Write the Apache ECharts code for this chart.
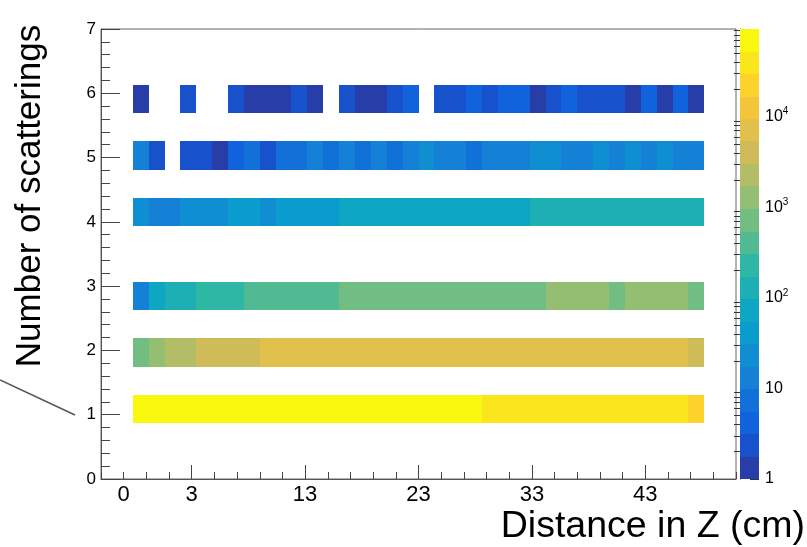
<!DOCTYPE html>
<html>
<head>
<meta charset="utf-8">
<script src="https://cdn.jsdelivr.net/npm/echarts@6/dist/echarts.min.js"></script>
<style>
  html, body { margin: 0; padding: 0; background: #fff; }
  #chart { width: 807px; height: 547px; }
</style>
</head>
<body>
<div id="chart"></div>
<script>
// histogram binning (axis units)
const X_MIN = 0, X_MAX = 56, X_NBINS = 40, X_FIRST_BIN = 2;
const Y_MIN = 0, Y_MAX = 7, Y_NBINS = 16;

// x tick labels
const xLabelValues = [2, 8, 18, 28, 38, 48];
const xLabelTexts = ['0', '3', '13', '23', '33', '43'];
const xMajorTicks = [8, 18, 28, 38, 48];

// number of scatterings (rows)
const scatterings = [1, 2, 3, 4, 5, 6];

// counts per x bin, one array per row (null = empty bin)
const counts1 = [78000, 77000, 76000, 76500, 75000, 75500, 74800, 74000, 73500, 74200, 73000, 72500,
  72000, 71500, 72200, 71000, 70500, 70000, 69000, 68500, 68000, 67000,
  48000, 47000, 46500, 46000, 45000, 44500, 44000, 43500, 43000, 42500, 42000, 41000, 40000, 22000];
const counts2 = [800, 1300, 2100, 2600, 3600, 4000, 4300, 4800,
  6200, 6500, 6800, 7000, 7100, 7300, 7200, 7400, 7500, 7600, 7500, 7700, 7600, 7800,
  7700, 7800, 7900, 7800, 7700, 7900, 8000, 7900, 7800, 7700, 7600, 7400, 7000, 4200];
const counts3 = [14, 80, 130, 160, 200, 250, 280, 330, 380, 420, 450, 480, 510,
  580, 620, 650, 680, 700, 720, 740, 760, 780, 800, 820, 850, 900,
  1000, 1050, 1100, 1020, 930, 1010, 1080, 1150, 1060, 880];
const counts4 = [20, 15, 16, 22, 25, 27, 34, 38, 28, 36, 42, 46, 50,
  58, 62, 65, 68, 72, 75, 78, 82, 85, 88, 90, 94,
  100, 105, 110, 115, 120, 125, 130, 135, 140, 145, 150];
const counts5 = [12, 2, null, 3, 2, 1, 4, 7, 3, 8, 6, 11, 9, 12, 8, 13, 9, 14, 19, 15, 16, 9,
  13, 15, 17, 20, 21, 16, 15, 19, 14, 20, 16, 19, 15, 13];
const counts6 = [1, null, null, 2, null, null, 2, 1, 1, 1, 2, 1, null, 3, 1, 1, 2, 4, null, 2, 3, 4,
  2, 4, 5, 1, 2, 4, 3, 2, 3, 1, 4, 1, 5, 1];
const rowCounts = [counts1, counts2, counts3, counts4, counts5, counts6];

// z scale (log) and palette levels
const Z_MAX = 93000;
const N_LEVELS = 20;
const zLabelValues = [0, 1, 2, 3, 4];
const zLabelTexts = ['1', '10', '{b|10}{s|2}', '{b|10}{s|3}', '{b|10}{s|4}'];
const birdColors = ['#273da8', '#1751cb', '#1063dc', '#1271d9', '#1480d6', '#0f8ed1', '#099ccc',
  '#0da7c3', '#1dafb4', '#2db7a4', '#51ba92', '#72bd81', '#94be72', '#b2bd66', '#d0bb59',
  '#e1c04b', '#f4c53b', '#fdd22b', '#fbe61d', '#f9f90f'];

const FONT = 'Liberation Sans, Arial, Helvetica, sans-serif';
const LOG_MAX = Math.log10(Z_MAX);
const LEVEL_W = LOG_MAX / N_LEVELS;
const xBinW = (X_MAX - X_MIN) / X_NBINS;
const yBinW = (Y_MAX - Y_MIN) / Y_NBINS;

// histogram cells: [xLow, xHigh, yLow, yHigh, log10(count), count]
const cells = [];
scatterings.forEach((n, r) => {
  const yb = Math.floor((n - Y_MIN) / yBinW);
  rowCounts[r].forEach((c, i) => {
    if (c == null) return;
    const xb = X_FIRST_BIN + i;
    cells.push([X_MIN + xb * xBinW, X_MIN + (xb + 1) * xBinW,
      Y_MIN + yb * yBinW, Y_MIN + (yb + 1) * yBinW, Math.log10(c), c]);
  });
});

// palette bar cells
const barCells = birdColors.map((c, k) => [0, 1, k * LEVEL_W, (k + 1) * LEVEL_W, (k + 0.5) * LEVEL_W]);

const pieces = birdColors.map((c, k) => (k === N_LEVELS - 1
  ? { gte: k * LEVEL_W, color: c }
  : { gte: k * LEVEL_W, lt: (k + 1) * LEVEL_W, color: c }));

// minor ticks of the palette axis (2..9 per decade)
const zMinorTicks = [];
for (let d = 0; d < 5; d++) {
  for (let m = 2; m <= 9; m++) {
    const v = Math.log10(m) + d;
    if (v < LOG_MAX) zMinorTicks.push(v);
  }
}

function renderCell(params, api) {
  const p0 = api.coord([api.value(0), api.value(3)]);
  const p1 = api.coord([api.value(1), api.value(2)]);
  const x0 = Math.round(p0[0]), x1 = Math.round(p1[0]);
  const y0 = Math.round(p0[1]), y1 = Math.round(p1[1]);
  return {
    type: 'rect',
    shape: { x: x0, y: y0, width: x1 - x0, height: y1 - y0 },
    style: { fill: api.visual('color') }
  };
}

const axisColor = '#555';
const chart = echarts.init(document.getElementById('chart'));
chart.setOption({
  animation: false,
  textStyle: { fontFamily: FONT },
  grid: [
    { left: 101, right: 71, top: 29, bottom: 68, show: true, borderColor: '#666', borderWidth: 1 },
    { left: 740, right: 48, top: 29, bottom: 68 }
  ],
  xAxis: [
    {
      gridIndex: 0, type: 'value', min: X_MIN, max: X_MAX, interval: 2, position: 'bottom',
      axisLine: { lineStyle: { color: axisColor, width: 1 } },
      axisTick: { inside: true, length: 7, lineStyle: { color: '#444' } },
      axisLabel: { show: false }, splitLine: { show: false }
    },
    {
      gridIndex: 0, type: 'value', min: X_MIN, max: X_MAX, position: 'bottom',
      axisLine: { show: false },
      axisTick: { inside: true, length: 14, customValues: xMajorTicks, lineStyle: { color: '#444' } },
      axisLabel: {
        customValues: xLabelValues, margin: 5, fontSize: 22, color: '#000', fontFamily: FONT,
        formatter: v => xLabelTexts[xLabelValues.indexOf(v)]
      },
      splitLine: { show: false }
    },
    { gridIndex: 1, type: 'value', min: 0, max: 1, show: false }
  ],
  yAxis: [
    {
      gridIndex: 0, type: 'value', min: Y_MIN, max: Y_MAX, interval: 0.2, position: 'left',
      axisLine: { show: true, lineStyle: { color: axisColor, width: 1 } },
      axisTick: { show: true, inside: true, length: 9, lineStyle: { color: '#444' } },
      axisLabel: { show: false }, splitLine: { show: false }
    },
    {
      gridIndex: 0, type: 'value', min: Y_MIN, max: Y_MAX, interval: 1, position: 'left',
      axisLine: { show: false },
      axisTick: { show: true, inside: true, length: 19, lineStyle: { color: '#444' } },
      axisLabel: { margin: 5, fontSize: 17, color: '#000', fontFamily: FONT },
      splitLine: { show: false }
    },
    {
      gridIndex: 1, type: 'value', min: 0, max: LOG_MAX, position: 'right',
      axisLine: { show: true, lineStyle: { color: '#333', width: 1 } },
      axisTick: { show: true, inside: true, length: 6, customValues: zMinorTicks, lineStyle: { color: '#333' } },
      axisLabel: { show: false }, splitLine: { show: false }
    },
    {
      gridIndex: 1, type: 'value', min: 0, max: LOG_MAX, position: 'right',
      axisLine: { show: false },
      axisTick: { show: true, inside: true, length: 9, customValues: zLabelValues, lineStyle: { color: '#333' } },
      axisLabel: {
        customValues: zLabelValues, margin: 6, fontSize: 16, color: '#000', fontFamily: FONT,
        formatter: v => zLabelTexts[zLabelValues.indexOf(v)],
        rich: {
          b: { fontSize: 16, fontFamily: FONT, color: '#000' },
          s: { fontSize: 10, fontFamily: FONT, color: '#000', padding: [0, 0, 10, 0] }
        }
      },
      splitLine: { show: false }
    }
  ],
  visualMap: {
    type: 'piecewise', show: false, dimension: 4, seriesIndex: [0, 1], pieces: pieces
  },
  series: [
    {
      type: 'custom', xAxisIndex: 0, yAxisIndex: 0, renderItem: renderCell,
      encode: { x: [0, 1], y: [2, 3] }, data: cells, z: 1
    },
    {
      type: 'custom', xAxisIndex: 2, yAxisIndex: 2, renderItem: renderCell,
      encode: { x: [0, 1], y: [2, 3] }, data: barCells, z: 1
    }
  ],
  graphic: [
    {
      type: 'text', x: 30, y: 196, rotation: Math.PI / 2,
      style: { text: 'Number of scatterings', font: '35px ' + FONT, fill: '#000', align: 'center', verticalAlign: 'middle' }
    },
    {
      type: 'text', x: 805, y: 527,
      style: { text: 'Distance in Z (cm)', font: '37.5px ' + FONT, fill: '#000', align: 'right', verticalAlign: 'middle' }
    },
    {
      type: 'line', shape: { x1: 0, y1: 380, x2: 75, y2: 415 },
      style: { stroke: '#555', lineWidth: 1.5 }
    }
  ]
});
</script>
</body>
</html>
